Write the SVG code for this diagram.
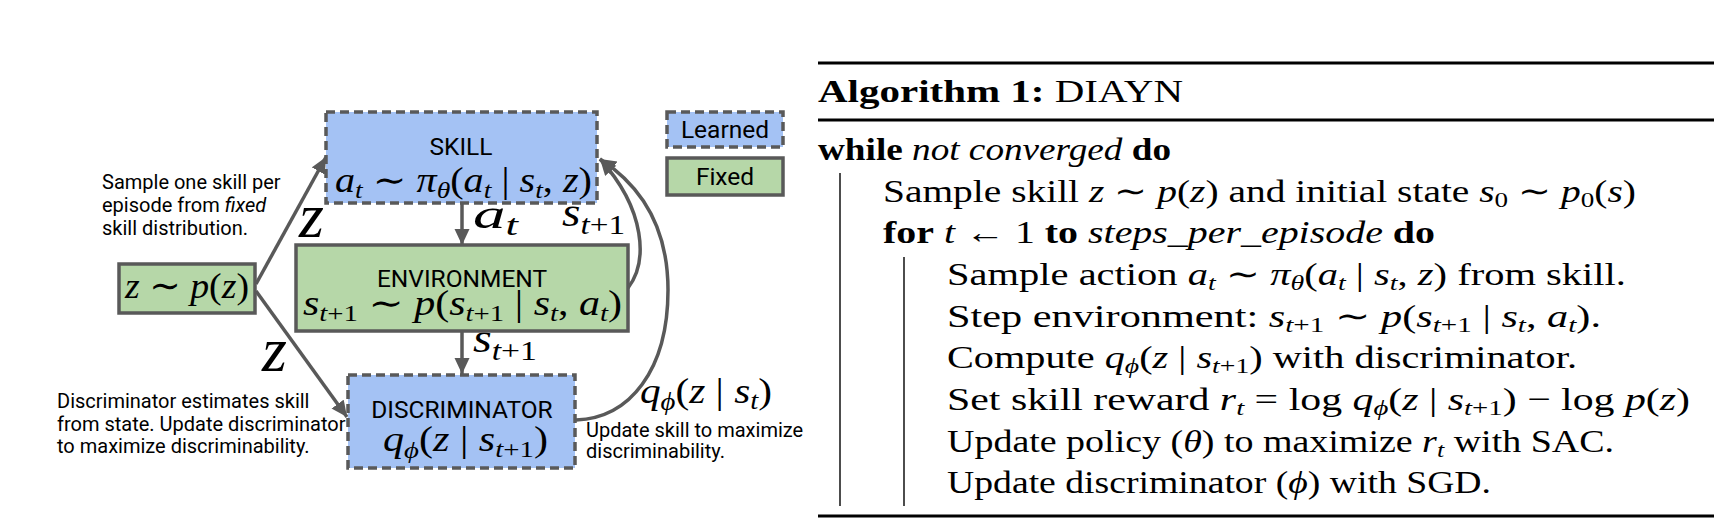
<svg xmlns="http://www.w3.org/2000/svg" width="1730" height="521" viewBox="0 0 1730 521">
<defs>
<marker id="ah" markerUnits="userSpaceOnUse" markerWidth="18" markerHeight="16" refX="16" refY="7.5" orient="auto">
<path d="M0,0 L16,7.5 L0,15 z" fill="#595959"/>
</marker>
<style>
.learned{fill:#a4c2f4;stroke:#595959;stroke-width:3.5;stroke-dasharray:9 5}
.fixed{fill:#b6d7a8;stroke:#595959;stroke-width:3.5}
.lbl{font-family:Roboto,"Liberation Sans",sans-serif;font-size:24.5px;fill:#000;text-anchor:middle}
.note{font-family:Roboto,"Liberation Sans",sans-serif;font-size:20px;fill:#000}
.m{font-family:"Liberation Serif","DejaVu Serif",serif;fill:#000}
.i{font-style:italic}
.conn{fill:none;stroke:#595959;stroke-width:3.5}
.alg{font-family:"Liberation Serif","Times New Roman",serif;font-size:32px;fill:#000}
.b{font-weight:bold}
.rule{stroke:#000;stroke-width:3.2}
.bar{stroke:#000;stroke-width:1.4}
</style>
</defs>
<rect width="1730" height="521" fill="#fff"/>

<g id="connectors">
<line class="conn" x1="256" y1="284" x2="326" y2="157" marker-end="url(#ah)"/>
<line class="conn" x1="256" y1="291" x2="347" y2="417" marker-end="url(#ah)"/>
<line class="conn" x1="462" y1="203" x2="462" y2="245" marker-end="url(#ah)"/>
<line class="conn" x1="462" y1="331" x2="462" y2="374" marker-end="url(#ah)"/>
<path class="conn" d="M628,288 C648,262 646,210 600,159" marker-end="url(#ah)"/>
<path class="conn" d="M576,420 C630,418 668,370 668,290 C668,225 640,185 600,159" marker-end="url(#ah)"/>
<text class="m i" x="299" y="237" font-size="64">z</text>
<text class="m i" x="262" y="371" font-size="64">z</text>
<text class="m" x="473" y="228" font-size="42" textLength="45" lengthAdjust="spacingAndGlyphs"><tspan class="i">a</tspan><tspan class="i" font-size="29" dy="7">t</tspan></text>
<text class="m" x="562" y="226" font-size="40" textLength="63" lengthAdjust="spacingAndGlyphs"><tspan class="i">s</tspan><tspan font-size="28" dy="8"><tspan class="i">t</tspan>+1</tspan></text>
<text class="m" x="473" y="352" font-size="40" textLength="64" lengthAdjust="spacingAndGlyphs"><tspan class="i">s</tspan><tspan font-size="28" dy="8"><tspan class="i">t</tspan>+1</tspan></text>
<text class="m" x="640" y="403" font-size="36" textLength="132" lengthAdjust="spacingAndGlyphs"><tspan class="i">q</tspan><tspan class="i" font-size="25" dy="7">ϕ</tspan><tspan dy="-7">(</tspan><tspan class="i">z</tspan> | <tspan class="i">s</tspan><tspan class="i" font-size="25" dy="6">t</tspan><tspan dy="-6">)</tspan></text>
</g>

<g id="node-skill">
<rect class="learned" x="326" y="112" width="271" height="91"/>
<text class="lbl" x="461" y="155">SKILL</text>
<text class="m" x="335" y="192" font-size="35" textLength="257" lengthAdjust="spacingAndGlyphs"><tspan class="i">a</tspan><tspan class="i" font-size="24" dy="6">t</tspan><tspan dy="-6"> ∼ </tspan><tspan class="i">π</tspan><tspan class="i" font-size="24" dy="6">θ</tspan><tspan dy="-6">(</tspan><tspan class="i">a</tspan><tspan class="i" font-size="24" dy="6">t</tspan><tspan dy="-6"> | </tspan><tspan class="i">s</tspan><tspan class="i" font-size="24" dy="6">t</tspan><tspan dy="-6">, </tspan><tspan class="i">z</tspan>)</text>
</g>

<g id="node-environment">
<rect class="fixed" x="296" y="245" width="332" height="86"/>
<text class="lbl" x="462" y="287">ENVIRONMENT</text>
<text class="m" x="303" y="315" font-size="35" textLength="319" lengthAdjust="spacingAndGlyphs"><tspan class="i">s</tspan><tspan font-size="24" dy="6"><tspan class="i">t</tspan>+1</tspan><tspan dy="-6"> ∼ </tspan><tspan class="i">p</tspan>(<tspan class="i">s</tspan><tspan font-size="24" dy="6"><tspan class="i">t</tspan>+1</tspan><tspan dy="-6"> | </tspan><tspan class="i">s</tspan><tspan class="i" font-size="24" dy="6">t</tspan><tspan dy="-6">, </tspan><tspan class="i">a</tspan><tspan class="i" font-size="24" dy="6">t</tspan><tspan dy="-6">)</tspan></text>
</g>

<g id="node-prior">
<rect class="fixed" x="119" y="264" width="136" height="49"/>
<text class="m" x="125" y="298" font-size="36" textLength="124" lengthAdjust="spacingAndGlyphs"><tspan class="i">z</tspan> ∼ <tspan class="i">p</tspan>(<tspan class="i">z</tspan>)</text>
</g>

<g id="node-discriminator">
<rect class="learned" x="348" y="375" width="227" height="93"/>
<text class="lbl" x="462" y="418">DISCRIMINATOR</text>
<text class="m" x="383" y="451" font-size="35" textLength="165" lengthAdjust="spacingAndGlyphs"><tspan class="i">q</tspan><tspan class="i" font-size="24" dy="7">ϕ</tspan><tspan dy="-7">(</tspan><tspan class="i">z</tspan> | <tspan class="i">s</tspan><tspan font-size="24" dy="6"><tspan class="i">t</tspan>+1</tspan><tspan dy="-6">)</tspan></text>
</g>

<g id="legend-learned">
<rect class="learned" x="667" y="112" width="116" height="35"/>
<text class="lbl" x="725" y="138">Learned</text>
</g>
<g id="legend-fixed">
<rect class="fixed" x="667" y="158" width="116" height="37"/>
<text class="lbl" x="725" y="185">Fixed</text>
</g>

<g id="note-sample">
<text class="note" x="102" y="189">Sample one skill per</text>
<text class="note" x="102" y="212">episode from <tspan font-style="italic">fixed</tspan></text>
<text class="note" x="102" y="235">skill distribution.</text>
</g>
<g id="note-discriminator">
<text class="note" x="57" y="408">Discriminator estimates skill</text>
<text class="note" x="57" y="431">from state. Update discriminator</text>
<text class="note" x="57" y="453">to maximize discriminability.</text>
</g>
<g id="note-update">
<text class="note" x="586" y="437">Update skill to maximize</text>
<text class="note" x="586" y="458">discriminability.</text>
</g>

<g id="algorithm">
<line class="rule" x1="818" y1="63" x2="1714" y2="63"/>
<line class="rule" x1="818" y1="120" x2="1714" y2="120"/>
<line class="rule" x1="818" y1="516" x2="1714" y2="516"/>
<line class="bar" x1="840" y1="173" x2="840" y2="506"/>
<line class="bar" x1="904" y1="257" x2="904" y2="506"/>
<text class="alg" x="818" y="102" font-size="40" textLength="365" lengthAdjust="spacingAndGlyphs"><tspan class="b">Algorithm 1:</tspan> DIAYN</text>
<text class="alg" x="818" y="160" textLength="353" lengthAdjust="spacingAndGlyphs"><tspan class="b">while</tspan> <tspan class="i">not converged</tspan> <tspan class="b">do</tspan></text>
<text class="alg" x="883" y="202" textLength="753" lengthAdjust="spacingAndGlyphs">Sample skill <tspan class="i">z</tspan> ∼ <tspan class="i">p</tspan>(<tspan class="i">z</tspan>) and initial state <tspan class="i">s</tspan><tspan font-size="22" dy="5">0</tspan><tspan dy="-5"> ∼ </tspan><tspan class="i">p</tspan><tspan font-size="22" dy="5">0</tspan><tspan dy="-5">(</tspan><tspan class="i">s</tspan>)</text>
<text class="alg" x="883" y="243" textLength="552" lengthAdjust="spacingAndGlyphs"><tspan class="b">for</tspan> <tspan class="i">t</tspan> ← 1 <tspan class="b">to</tspan> <tspan class="i">steps_per_episode</tspan> <tspan class="b">do</tspan></text>
<text class="alg" x="947" y="285" textLength="679" lengthAdjust="spacingAndGlyphs">Sample action <tspan class="i">a</tspan><tspan class="i" font-size="22" dy="5">t</tspan><tspan dy="-5"> ∼ </tspan><tspan class="i">π</tspan><tspan class="i" font-size="22" dy="5">θ</tspan><tspan dy="-5">(</tspan><tspan class="i">a</tspan><tspan class="i" font-size="22" dy="5">t</tspan><tspan dy="-5"> | </tspan><tspan class="i">s</tspan><tspan class="i" font-size="22" dy="5">t</tspan><tspan dy="-5">, </tspan><tspan class="i">z</tspan>) from skill.</text>
<text class="alg" x="947" y="327" textLength="654" lengthAdjust="spacingAndGlyphs">Step environment: <tspan class="i">s</tspan><tspan font-size="22" dy="5"><tspan class="i">t</tspan>+1</tspan><tspan dy="-5"> ∼ </tspan><tspan class="i">p</tspan>(<tspan class="i">s</tspan><tspan font-size="22" dy="5"><tspan class="i">t</tspan>+1</tspan><tspan dy="-5"> | </tspan><tspan class="i">s</tspan><tspan class="i" font-size="22" dy="5">t</tspan><tspan dy="-5">, </tspan><tspan class="i">a</tspan><tspan class="i" font-size="22" dy="5">t</tspan><tspan dy="-5">).</tspan></text>
<text class="alg" x="947" y="368" textLength="630" lengthAdjust="spacingAndGlyphs">Compute <tspan class="i">q</tspan><tspan class="i" font-size="22" dy="5">ϕ</tspan><tspan dy="-5">(</tspan><tspan class="i">z</tspan> | <tspan class="i">s</tspan><tspan font-size="22" dy="5"><tspan class="i">t</tspan>+1</tspan><tspan dy="-5">) with discriminator.</tspan></text>
<text class="alg" x="947" y="410" textLength="743" lengthAdjust="spacingAndGlyphs">Set skill reward <tspan class="i">r</tspan><tspan class="i" font-size="22" dy="5">t</tspan><tspan dy="-5"> = log </tspan><tspan class="i">q</tspan><tspan class="i" font-size="22" dy="5">ϕ</tspan><tspan dy="-5">(</tspan><tspan class="i">z</tspan> | <tspan class="i">s</tspan><tspan font-size="22" dy="5"><tspan class="i">t</tspan>+1</tspan><tspan dy="-5">) − log </tspan><tspan class="i">p</tspan>(<tspan class="i">z</tspan>)</text>
<text class="alg" x="947" y="452" textLength="667" lengthAdjust="spacingAndGlyphs">Update policy (<tspan class="i">θ</tspan>) to maximize <tspan class="i">r</tspan><tspan class="i" font-size="22" dy="5">t</tspan><tspan dy="-5"> with SAC.</tspan></text>
<text class="alg" x="947" y="493" textLength="544" lengthAdjust="spacingAndGlyphs">Update discriminator (<tspan class="i">ϕ</tspan>) with SGD.</text>
</g>
</svg>
